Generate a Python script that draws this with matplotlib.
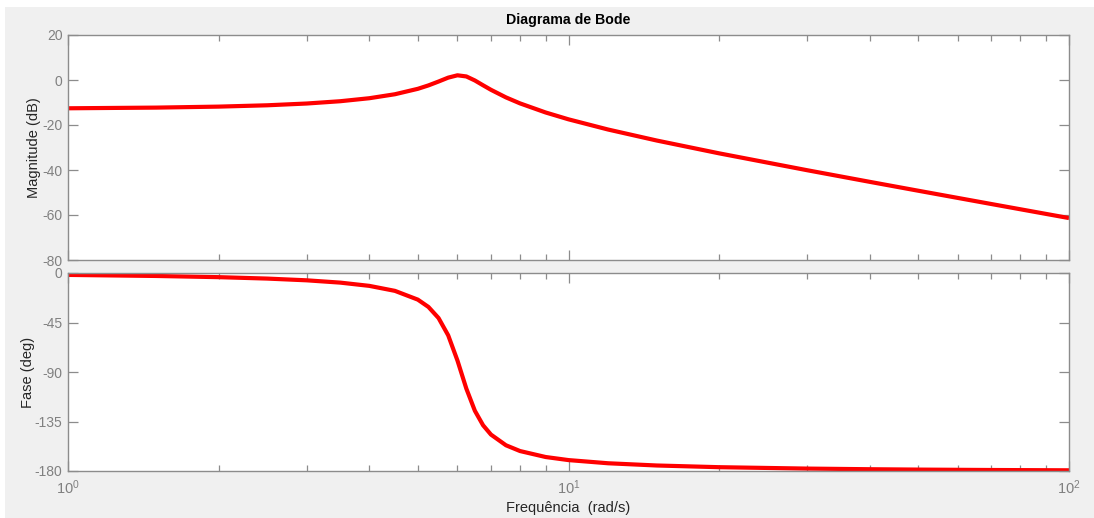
import matplotlib
matplotlib.use("Agg")
import matplotlib.pyplot as plt
from matplotlib.patches import Rectangle
from matplotlib.ticker import LogLocator, NullFormatter

# Frequency response samples
freq = [1, 1.5, 2, 2.5, 3, 3.5, 4, 4.5, 5, 5.25, 5.5, 5.75, 6, 6.25, 6.5,
        6.75, 7, 7.5, 8, 9, 10, 12, 15, 20, 30, 40, 50, 70, 100]
mag_db = [-12.57, -12.27, -11.83, -11.24, -10.45, -9.43, -8.10, -6.33, -3.92,
          -2.40, -0.68, 1.05, 2.09, 1.58, -0.21, -2.35, -4.36, -7.73, -10.39,
          -14.43, -17.48, -22.02, -26.89, -32.60, -40.11, -45.27, -49.22,
          -55.13, -61.36]
phase_deg = [-1.74, -2.70, -3.78, -5.07, -6.66, -8.75, -11.70, -16.24, -24.21,
             -30.86, -40.95, -56.70, -79.60, -105.11, -125.23, -138.42, -146.90,
             -156.61, -161.85, -167.28, -170.08, -172.97, -174.99, -176.54,
             -177.81, -178.39, -178.72, -179.09, -179.37]

mag_ticks = [20, 0, -20, -40, -60, -80]
phase_ticks = [0, -45, -90, -135, -180]
x_ticks = [1, 10, 100]
x_ticklabels = ["$10^0$", "$10^1$", "$10^2$"]

plt.rcParams["font.family"] = ["Liberation Sans", "DejaVu Sans"]
plt.rcParams["mathtext.fontset"] = "custom"
plt.rcParams["mathtext.rm"] = "Liberation Sans"
plt.rcParams["mathtext.it"] = "Liberation Sans"

W, H = 1094, 518
fig = plt.figure(figsize=(W / 100, H / 100), dpi=100, facecolor="white")
fig.patches.append(Rectangle((5 / W, 0), 1 - 5 / W, 1 - 7 / H,
                             transform=fig.transFigure, facecolor="#f0f0f0",
                             edgecolor="none", zorder=-10))

left, width = 68 / W, (1069 - 68) / W
ax1 = fig.add_axes([left, 1 - 260 / H, width, 225 / H])
ax2 = fig.add_axes([left, 1 - 471 / H, width, 198 / H])

tick_col = "#808080"
spine_col = "#8c8c8c"
label_col = "#262626"
red = "#ff0000"

ax1.plot(freq, mag_db, color=red, lw=3.0, solid_capstyle="butt")
ax2.plot(freq, phase_deg, color=red, lw=3.0, solid_capstyle="butt")

for ax in (ax1, ax2):
    ax.set_xscale("log")
    ax.set_xlim(1, 100)
    ax.set_facecolor("white")
    for s in ax.spines.values():
        s.set_color(spine_col)
        s.set_linewidth(1.0)
    ax.xaxis.set_minor_locator(LogLocator(base=10, subs=range(2, 10), numticks=20))
    ax.xaxis.set_minor_formatter(NullFormatter())
    ax.tick_params(which="both", direction="in", top=True, right=True,
                   colors=spine_col, labelcolor=tick_col, labelsize=10)
    ax.tick_params(which="major", length=7, width=0.9, pad=4)
    ax.tick_params(which="minor", length=4, width=0.9)
    ax.set_xticks(x_ticks)

ax1.set_ylim(-80, 20)
ax1.set_yticks(mag_ticks)
ax1.set_yticklabels([str(t) for t in mag_ticks])
ax1.tick_params(axis="x", labelbottom=False)
ax1.set_ylabel("Magnitude (dB)", fontsize=10.5, color=label_col)
ax1.yaxis.set_label_coords(-0.027, 0.5)
ax1.set_title("Diagrama de Bode", fontsize=10.2, fontweight="bold",
              color="#000000", pad=8)

ax2.set_ylim(-180, 0)
ax2.set_yticks(phase_ticks)
ax2.set_yticklabels([str(t) for t in phase_ticks])
ax2.set_xticklabels(x_ticklabels)
ax2.tick_params(axis="x", which="major", pad=5, labelsize=10.5)
ax2.set_ylabel("Fase (deg)", fontsize=10.5, color=label_col)
ax2.yaxis.set_label_coords(-0.033, 0.5)
ax2.set_xlabel("Frequência  (rad/s)", fontsize=10.5, color=label_col, labelpad=3)

fig.savefig("out.png", dpi=100, facecolor=fig.get_facecolor())
